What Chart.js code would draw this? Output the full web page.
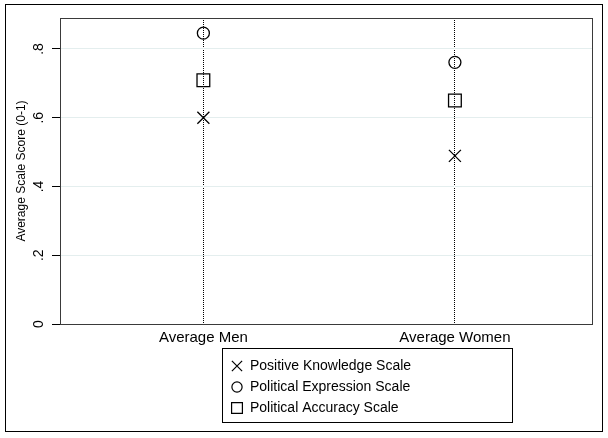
<!DOCTYPE html>
<html>
<head>
<meta charset="utf-8">
<script src="https://cdn.jsdelivr.net/npm/chart.js@4/dist/chart.umd.min.js"></script>
<style>
  html, body { margin: 0; padding: 0; background: #fff; }
  #wrap { width: 608px; height: 438px; }
</style>
</head>
<body>
<div id="wrap"><canvas id="chart"></canvas></div>
<script>
// categories on the x axis
const groups = ['Average Men', 'Average Women'];
const groupPos = [1, 2];

// scale scores per group
const knowledge = [0.600, 0.489];
const expression = [0.846, 0.761];
const accuracy = [0.709, 0.650];

const seriesNames = ['Positive Knowledge Scale', 'Political Expression Scale', 'Political Accuracy Scale'];

const yTickValues = [0, 0.2, 0.4, 0.6, 0.8];
const yTickLabels = ['0', '.2', '.4', '.6', '.8'];

const FONT = 'Arial, "Liberation Sans", Helvetica, sans-serif';

const toPoints = (vals) => vals.map((v, i) => ({ x: groupPos[i], y: v }));

const markers = [
  { style: 'crossRot', radius: 8.5 },
  { style: 'circle', radius: 6 },
  { style: 'rect', radius: 9 },
];

// outer frame, plot box, rotated y tick labels and boxed legend
const stataDecor = {
  id: 'stataDecor',
  afterDraw(chart) {
    const { ctx, chartArea: a, scales } = chart;
    ctx.save();
    ctx.strokeStyle = '#000';
    ctx.lineWidth = 1;
    ctx.strokeRect(5.5, 4.5, 597, 427);

    ctx.strokeStyle = '#3a3a3a';
    ctx.strokeRect(Math.round(a.left) + 0.5, Math.round(a.top) + 0.5,
      Math.round(a.right - a.left), Math.round(a.bottom - a.top));

    ctx.fillStyle = '#000';
    ctx.font = '14px ' + FONT;
    ctx.textAlign = 'center';
    ctx.textBaseline = 'middle';
    yTickValues.forEach((v, i) => {
      const py = scales.y.getPixelForValue(v);
      ctx.save();
      ctx.translate(39, py);
      ctx.rotate(-Math.PI / 2);
      ctx.fillText(yTickLabels[i], 0, 0);
      ctx.restore();
    });

    // legend
    const lx = 222, ly = 348, lw = 290, lh = 74;
    ctx.strokeStyle = '#000';
    ctx.strokeRect(lx + 0.5, ly + 0.5, lw, lh);
    ctx.textAlign = 'left';
    chart.data.datasets.forEach((ds, i) => {
      const ry = 366 + i * 21;
      ctx.fillStyle = 'rgba(0,0,0,0)';
      ctx.strokeStyle = '#000';
      ctx.lineWidth = 1.2;
      Chart.helpers.drawPoint(ctx, {
        pointStyle: ds.pointStyle,
        radius: ds.pointRadius * 0.85,
        rotation: 0,
        borderWidth: 1.2,
      }, 237, ry);
      ctx.lineWidth = 1;
      ctx.fillStyle = '#000';
      ctx.fillText(ds.label, 250, ry);
    });
    ctx.restore();
  }
};

const datasets = [knowledge, expression, accuracy].map((vals, i) => ({
  label: seriesNames[i],
  data: toPoints(vals),
  pointStyle: markers[i].style,
  pointRadius: markers[i].radius,
  pointHoverRadius: markers[i].radius,
  pointBorderWidth: 1.3,
  borderColor: '#000',
  backgroundColor: 'rgba(0,0,0,0)',
  showLine: false,
}));

new Chart(document.getElementById('chart'), {
  type: 'scatter',
  data: { datasets },
  options: {
    responsive: true,
    maintainAspectRatio: false,
    animation: false,
    layout: { padding: { left: 10, right: 16, top: 18, bottom: 86 } },
    plugins: {
      legend: { display: false },
      tooltip: { enabled: false },
    },
    scales: {
      x: {
        type: 'linear',
        min: 0.43,
        max: 2.545,
        afterBuildTicks: (s) => { s.ticks = groupPos.map((v) => ({ value: v })); },
        ticks: {
          color: '#000',
          font: { family: FONT, size: 15 },
          padding: 5,
          maxRotation: 0,
          callback: (v) => groups[groupPos.indexOf(v)] || '',
        },
        grid: { color: '#000', lineWidth: 1, drawTicks: false },
        border: { display: false, dash: [1, 1] },
      },
      y: {
        min: 0,
        max: 0.89,
        afterBuildTicks: (s) => { s.ticks = yTickValues.map((v) => ({ value: v })); },
        ticks: { display: false },
        grid: { color: '#e4eeee', lineWidth: 1, tickLength: 8, tickColor: '#000' },
        border: { display: false },
        title: {
          display: true,
          text: 'Average Scale Score (0-1)',
          color: '#000',
          font: { family: FONT, size: 12 },
          padding: { top: 4, bottom: 23.6 },
        },
      },
    },
  },
  plugins: [stataDecor],
});
</script>
</body>
</html>
